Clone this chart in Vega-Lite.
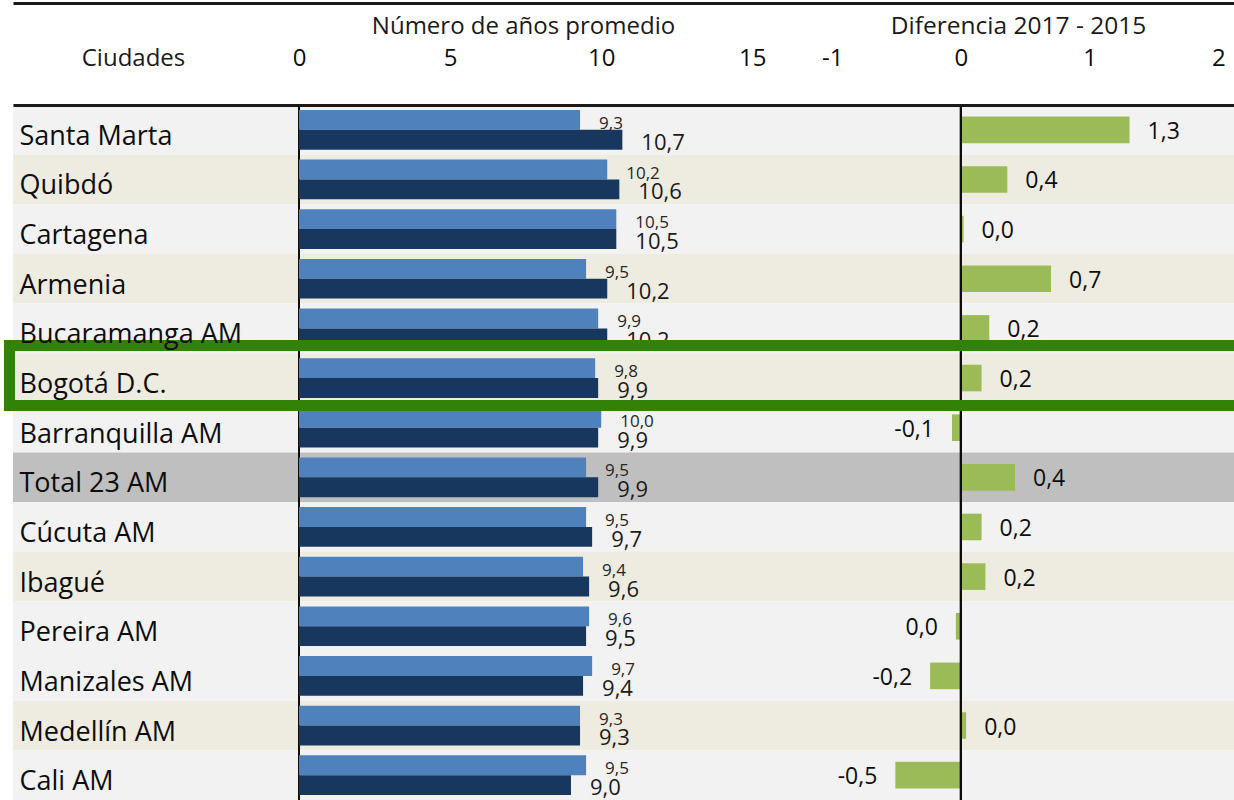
{
  "$schema": "https://vega.github.io/schema/vega-lite/v6.json",
  "width": 1221,
  "height": 695,
  "autosize": {"type": "none"},
  "padding": {"left": 13, "top": 105, "right": 0, "bottom": 0},
  "background": "white",
  "config": {
    "view": {"stroke": null},
    "font": "Open Sans",
    "locale": {"number": {"decimal": ",", "thousands": ".", "grouping": [3], "currency": ["$", ""], "minus": "-"}},
    "axis": {"labelFont": "Open Sans", "titleFont": "Open Sans", "grid": false, "ticks": false, "labelColor": "#0d0d0d", "titleColor": "#1a1a1a", "titleFontWeight": "normal"}
  },
  "data": {"values": [
    {"ciudad": "Santa Marta", "banda": "gris", "a2015": 9.3, "a2017": 10.7, "dif": 1.31},
    {"ciudad": "Quibdó", "banda": "beige", "a2015": 10.2, "a2017": 10.6, "dif": 0.36},
    {"ciudad": "Cartagena", "banda": "gris", "a2015": 10.5, "a2017": 10.5, "dif": 0.02},
    {"ciudad": "Armenia", "banda": "beige", "a2015": 9.5, "a2017": 10.2, "dif": 0.7},
    {"ciudad": "Bucaramanga AM", "banda": "gris", "a2015": 9.9, "a2017": 10.2, "dif": 0.22},
    {"ciudad": "Bogotá D.C.", "banda": "beige", "a2015": 9.8, "a2017": 9.9, "dif": 0.16},
    {"ciudad": "Barranquilla AM", "banda": "gris", "a2015": 10.0, "a2017": 9.9, "dif": -0.07},
    {"ciudad": "Total 23 AM", "banda": "total", "a2015": 9.5, "a2017": 9.9, "dif": 0.42},
    {"ciudad": "Cúcuta AM", "banda": "gris", "a2015": 9.5, "a2017": 9.7, "dif": 0.16},
    {"ciudad": "Ibagué", "banda": "beige", "a2015": 9.4, "a2017": 9.6, "dif": 0.19},
    {"ciudad": "Pereira AM", "banda": "gris", "a2015": 9.6, "a2017": 9.5, "dif": -0.04},
    {"ciudad": "Manizales AM", "banda": "gris", "a2015": 9.7, "a2017": 9.4, "dif": -0.24},
    {"ciudad": "Medellín AM", "banda": "beige", "a2015": 9.3, "a2017": 9.3, "dif": 0.04},
    {"ciudad": "Cali AM", "banda": "gris", "a2015": 9.5, "a2017": 9.0, "dif": -0.51}
  ]},
  "encoding": {
    "y": {
      "field": "ciudad", "type": "nominal", "sort": null,
      "scale": {"paddingInner": 0.2, "paddingOuter": 0.1},
      "axis": {
        "title": "Ciudades", "titleAngle": 0, "titleX": 120, "titleY": -40,
        "titleAlign": "center", "titleBaseline": "alphabetic", "titleFontSize": 24,
        "domain": false, "ticks": false, "labelAlign": "left", "labelPadding": -6,
        "labelBaseline": "alphabetic", "labelOffset": 15, "labelFontSize": 27,
        "labelLimit": 0, "zindex": 1
      }
    }
  },
  "layer": [
    {
      "mark": {"type": "bar", "height": {"band": 1.25}},
      "encoding": {
        "x": {"value": 0},
        "x2": {"value": "width"},
        "fill": {"field": "banda", "type": "nominal", "scale": {"domain": ["gris", "beige", "total"], "range": ["#f2f2f2", "#eeece1", "#bfbfbf"]}, "legend": null}
      }
    },
    {
      "mark": {"type": "rule", "color": "#0d0d0d", "strokeWidth": 2},
      "encoding": {
        "x": {"datum": 0, "type": "quantitative", "scale": {"domain": [-9.464, 30.94], "nice": false, "zero": false},
          "axis": {"orient": "top", "offset": 102, "labels": false, "ticks": false, "title": null, "domain": true, "domainColor": "#1a1a1a", "domainWidth": 3, "zindex": 1}},
        "y": {"value": 0},
        "y2": {"value": "height"}
      }
    },
    {
      "transform": [{"fold": ["a2015", "a2017"], "as": ["anio", "valor"]}],
      "encoding": {
        "x": {"field": "valor", "type": "quantitative", "stack": null,
          "scale": {"domain": [-9.464, 30.94], "nice": false, "zero": false},
          "axis": {"orient": "top", "values": [0, 5, 10, 15], "title": "Número de años promedio",
            "titleX": 510, "titleY": -72, "titleAlign": "center", "titleBaseline": "alphabetic", "titleFontSize": 24,
            "labelPadding": 40, "labelBaseline": "alphabetic", "labelFontSize": 24, "labelFlush": false,
            "domain": true, "domainColor": "#1a1a1a", "domainWidth": 3, "zindex": 1}},
        "yOffset": {"field": "anio", "type": "nominal", "scale": {"paddingInner": 0, "paddingOuter": 0}}
      },
      "layer": [
        {
          "mark": {"type": "bar"},
          "encoding": {
            "color": {"field": "anio", "type": "nominal", "scale": {"domain": ["a2015", "a2017"], "range": ["#4f81bd", "#17375e"]}, "legend": null}
          }
        },
        {
          "transform": [{"filter": "datum.anio == 'a2015'"}],
          "mark": {"type": "text", "align": "left", "baseline": "middle", "dx": 19, "dy": 4, "fontSize": 17, "color": "#262626"},
          "encoding": {"text": {"field": "valor", "type": "quantitative", "format": ".1f"}}
        },
        {
          "transform": [{"filter": "datum.anio == 'a2017'"}],
          "mark": {"type": "text", "align": "left", "baseline": "middle", "dx": 19, "dy": 3, "fontSize": 22, "color": "#1a1a1a"},
          "encoding": {"text": {"field": "valor", "type": "quantitative", "format": ".1f"}}
        }
      ]
    },
    {
      "encoding": {
        "x": {"field": "dif", "type": "quantitative", "stack": null,
          "scale": {"domain": [-7.368, 2.122], "nice": false, "zero": false},
          "axis": {"orient": "top", "values": [-1, 0, 1, 2], "title": "Diferencia 2017 - 2015",
            "titleX": 1005, "titleY": -72, "titleAlign": "center", "titleBaseline": "alphabetic", "titleFontSize": 24.5,
            "labelPadding": 40, "labelBaseline": "alphabetic", "labelFontSize": 24, "labelFlush": false,
            "domain": false, "zindex": 1}}
      },
      "layer": [
        {
          "mark": {"type": "bar", "height": {"band": 0.67}, "color": "#9bbb59"}
        },
        {
          "mark": {"type": "rule", "color": "#0d0d0d", "strokeWidth": 2},
          "encoding": {"x": {"datum": 0, "type": "quantitative"}, "y": {"value": 0}, "y2": {"value": "height"}}
        },
        {
          "transform": [{"filter": "datum.dif >= 0"}],
          "mark": {"type": "text", "align": "left", "baseline": "middle", "dx": 18, "dy": 2, "fontSize": 23, "color": "#0d0d0d"},
          "encoding": {"text": {"field": "dif", "type": "quantitative", "format": ".1f"}}
        },
        {
          "transform": [{"filter": "datum.dif < 0"}],
          "mark": {"type": "text", "align": "right", "baseline": "middle", "dx": -18, "dy": 2, "fontSize": 23, "color": "#0d0d0d"},
          "encoding": {"text": {"condition": {"test": "datum.dif > -0.05", "value": "0,0"}, "field": "dif", "type": "quantitative", "format": ".1f"}}
        }
      ]
    },
    {
      "transform": [{"filter": "datum.ciudad == 'Bogotá D.C.'"}],
      "mark": {"type": "bar", "height": {"band": 1.51}, "yOffset": -2.5, "fill": "transparent", "stroke": "#318207", "strokeWidth": 11},
      "encoding": {
        "x": {"value": -3.5},
        "x2": {"value": 1240}
      }
    }
  ],
  "resolve": {"scale": {"x": "independent"}, "axis": {"x": "independent"}}
}
